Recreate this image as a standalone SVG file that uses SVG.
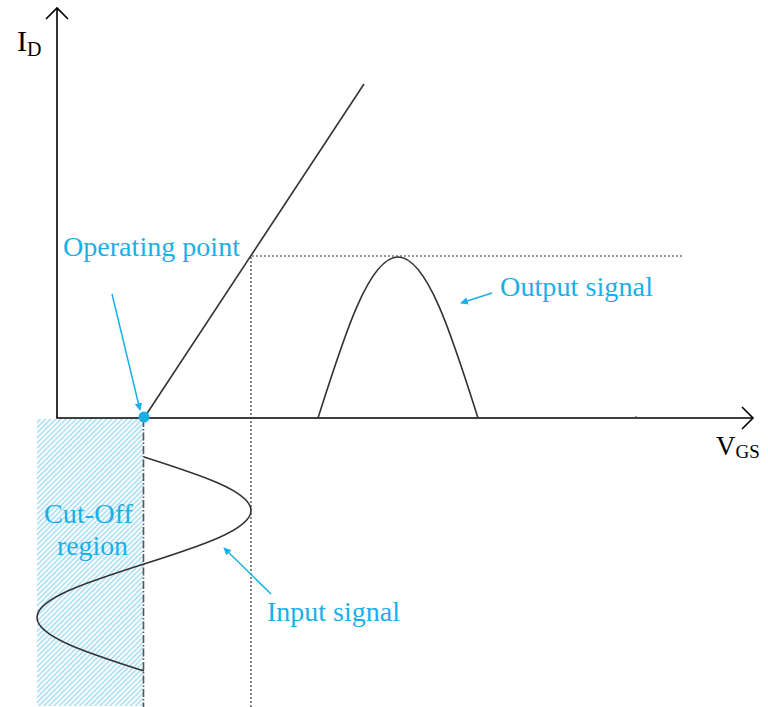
<svg xmlns="http://www.w3.org/2000/svg" width="768" height="707" viewBox="0 0 768 707">
<style>
.ax{stroke:#000;stroke-width:1.6;fill:none}
.crv{stroke:#333;stroke-width:1.6;fill:none}
.dot{stroke:#333;stroke-width:1.2;stroke-dasharray:2 2;fill:none}
.blue{stroke:#19b0e8;stroke-width:1.5;fill:none}
.lbl{font-family:"Liberation Serif","Times New Roman",serif;fill:#19b0e8;font-size:27px}
.blk{font-family:"Liberation Serif","Times New Roman",serif;fill:#000}
</style>
<defs>
<pattern id="hatch" patternUnits="userSpaceOnUse" width="3.6" height="3.6" patternTransform="rotate(45)">
<line x1="1" y1="0" x2="1" y2="3.6" stroke="#9ddbf5" stroke-width="1.4"/>
</pattern>
<marker id="ah" viewBox="0 0 10 10" refX="9" refY="5" markerWidth="5" markerHeight="5" orient="auto" markerUnits="strokeWidth">
<path d="M0,0 L10,5 L0,10 z" fill="#19b0e8"/>
</marker>
</defs>
<g id="cutoff-region">
<rect x="37" y="419" width="106" height="287" fill="url(#hatch)"/>
</g>
<g id="axes">
<path class="ax" d="M57,8 L57,418 L752,418"/>
<path class="ax" d="M46,19 L57,8 L68,19"/>
<path class="ax" d="M742,407 L753,418 L742,429"/>
<line x1="636" y1="416" x2="636" y2="418" stroke="#333" stroke-width="1"/>
</g>
<g id="guides">
<line class="dot" x1="252" y1="256" x2="682" y2="256"/>
<line class="dot" x1="251" y1="257" x2="251" y2="707"/>
<line x1="143.5" y1="419" x2="143.5" y2="707" stroke="#555" stroke-width="1.6" stroke-dasharray="8 2 1.5 2"/>
</g>
<g id="transfer-line">
<line class="crv" x1="144" y1="418" x2="364" y2="84"/>
</g>
<g id="input-signal">
<path class="crv" stroke-width="1.4" d="M144,457 C198.8,474.45 251,491.1 251,510.5 C251,529.9 198.8,546.55 144,564 C89.2,581.45 37,598.1 37,617.5 C37,636.9 89.2,653.55 144,671"/>
</g>
<g id="output-signal">
<path class="crv" d="M318,418 C344.1,335.5 369,257 398,257 C427,257 452,335.5 478,418"/>
</g>
<g id="operating-point">
<circle cx="144" cy="417" r="5.5" fill="#19aee6"/>
</g>
<g id="connectors">
<line class="blue" x1="112" y1="294" x2="140" y2="410" marker-end="url(#ah)"/>
<line class="blue" x1="492" y1="293" x2="461" y2="303" marker-end="url(#ah)"/>
<line class="blue" x1="271" y1="594" x2="224" y2="548" marker-end="url(#ah)"/>
</g>
<g id="labels">
<text class="blk" x="17" y="51" font-size="30">I<tspan font-size="20" dy="5">D</tspan></text>
<text class="blk" x="716" y="455" font-size="27">V<tspan font-size="19" dy="3">GS</tspan></text>
<text class="lbl" x="63" y="256" textLength="177" lengthAdjust="spacingAndGlyphs">Operating point</text>
<text class="lbl" x="500" y="296" textLength="153" lengthAdjust="spacingAndGlyphs">Output signal</text>
<text class="lbl" x="44" y="523" textLength="89" lengthAdjust="spacingAndGlyphs">Cut-Off</text>
<text class="lbl" x="57" y="555" textLength="71" lengthAdjust="spacingAndGlyphs">region</text>
<text class="lbl" x="267" y="621" textLength="133" lengthAdjust="spacingAndGlyphs">Input signal</text>
</g>
</svg>
